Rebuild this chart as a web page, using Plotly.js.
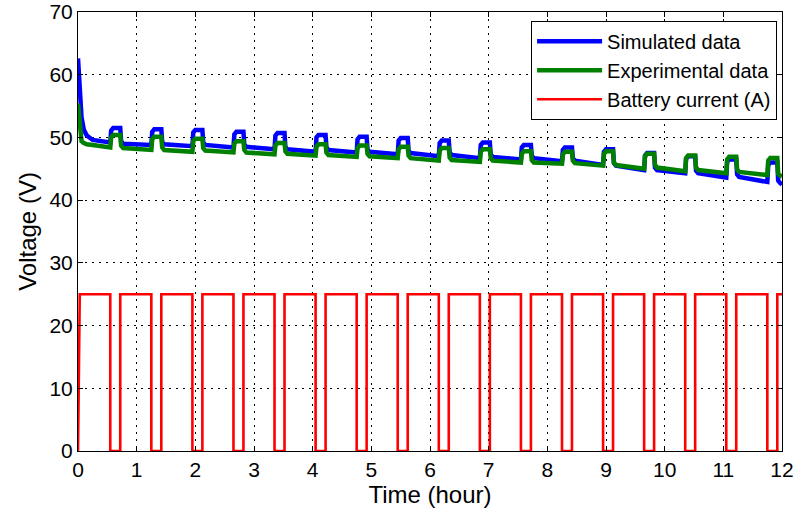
<!DOCTYPE html>
<html>
<head>
<meta charset="utf-8">
<script src="https://cdn.plot.ly/plotly-3.0.1.min.js"></script>
<style>html,body{margin:0;padding:0;background:#fff;}#chart{width:799px;height:512px;}</style>
</head>
<body>
<div id="chart"></div>
<script>
// Shared time base (hours) for the voltage series
const voltTime = [
  0, 0.03, 0.06, 0.1, 0.15, 0.25,
  0.55, 0.565, 0.6, 0.72, 0.735, 0.77,
  1.25, 1.265, 1.3, 1.42, 1.435, 1.47,
  1.95, 1.965, 2.0, 2.12, 2.135, 2.17,
  2.65, 2.665, 2.7, 2.82, 2.835, 2.87,
  3.35, 3.365, 3.4, 3.52, 3.535, 3.57,
  4.05, 4.065, 4.1, 4.22, 4.235, 4.27,
  4.75, 4.765, 4.8, 4.92, 4.935, 4.97,
  5.45, 5.465, 5.5, 5.62, 5.635, 5.67,
  6.15, 6.165, 6.2, 6.32, 6.335, 6.37,
  6.85, 6.865, 6.9, 7.02, 7.035, 7.07,
  7.55, 7.565, 7.6, 7.72, 7.735, 7.77,
  8.25, 8.265, 8.3, 8.42, 8.435, 8.47,
  8.95, 8.965, 9.0, 9.12, 9.135, 9.17,
  9.65, 9.665, 9.7, 9.82, 9.835, 9.87,
  10.35, 10.365, 10.4, 10.52, 10.535, 10.57,
  11.05, 11.065, 11.1, 11.22, 11.235, 11.27,
  11.75, 11.765, 11.8, 11.92, 11.935, 11.97,
  12.0
];

const simulatedV = [
  62.6, 57.0, 53.2, 51.2, 50.3, 49.6,
  49.2, 51.1, 51.5, 51.5, 49.4, 49.0,
  48.8, 50.9, 51.3, 51.3, 49.3, 48.9,
  48.6, 50.8, 51.2, 51.2, 49.2, 48.8,
  48.4, 50.5, 50.9, 50.9, 48.9, 48.5,
  48.1, 50.3, 50.7, 50.7, 48.5, 48.1,
  47.7, 50.0, 50.4, 50.4, 48.4, 48.0,
  47.6, 49.7, 50.1, 50.1, 48.1, 47.7,
  47.3, 49.5, 49.9, 49.9, 47.9, 47.5,
  47.0, 49.1, 49.5, 49.5, 47.6, 47.2,
  46.7, 48.8, 49.2, 49.2, 47.3, 46.9,
  46.5, 48.4, 48.8, 48.8, 47.1, 46.7,
  46.2, 48.0, 48.4, 48.4, 46.7, 46.3,
  45.6, 47.7, 48.1, 48.1, 45.9, 45.5,
  44.8, 47.1, 47.5, 47.5, 45.2, 44.8,
  44.3, 46.6, 47.0, 47.0, 44.7, 44.3,
  43.6, 46.1, 46.5, 46.5, 44.1, 43.7,
  42.9, 45.6, 46.0, 46.0, 43.1, 42.7,
  42.5
];

const experimentalV = [
  55.4, 51.0, 49.4, 49.1, 48.9, 48.8,
  48.4, 50.0, 50.4, 50.4, 48.7, 48.3,
  48.0, 49.7, 50.1, 50.1, 48.4, 48.0,
  47.7, 49.4, 49.8, 49.8, 48.3, 47.9,
  47.6, 49.0, 49.4, 49.4, 48.0, 47.6,
  47.3, 48.7, 49.1, 49.1, 47.8, 47.4,
  47.1, 48.5, 48.9, 48.9, 47.6, 47.2,
  46.9, 48.3, 48.7, 48.7, 47.4, 47.0,
  46.7, 48.1, 48.5, 48.5, 47.1, 46.7,
  46.3, 47.9, 48.3, 48.3, 46.8, 46.4,
  46.1, 47.7, 48.1, 48.1, 46.7, 46.3,
  46.0, 47.4, 47.8, 47.8, 46.4, 46.0,
  45.8, 47.3, 47.7, 47.7, 46.3, 45.9,
  45.5, 47.4, 47.8, 47.8, 46.0, 45.6,
  45.0, 47.0, 47.4, 47.4, 45.6, 45.2,
  44.6, 46.7, 47.1, 47.1, 45.2, 44.8,
  44.3, 46.5, 46.9, 46.9, 44.9, 44.5,
  44.0, 46.3, 46.7, 46.7, 44.2, 43.9,
  43.8
];

// Battery current square wave (hours, amperes)
const currentTime = [
  0, 0.03,
  0.55, 0.55, 0.72, 0.72,
  1.25, 1.25, 1.42, 1.42,
  1.95, 1.95, 2.12, 2.12,
  2.65, 2.65, 2.82, 2.82,
  3.35, 3.35, 3.52, 3.52,
  4.05, 4.05, 4.22, 4.22,
  4.75, 4.75, 4.92, 4.92,
  5.45, 5.45, 5.62, 5.62,
  6.15, 6.15, 6.32, 6.32,
  6.85, 6.85, 7.02, 7.02,
  7.55, 7.55, 7.72, 7.72,
  8.25, 8.25, 8.42, 8.42,
  8.95, 8.95, 9.12, 9.12,
  9.65, 9.65, 9.82, 9.82,
  10.35, 10.35, 10.52, 10.52,
  11.05, 11.05, 11.22, 11.22,
  11.75, 11.75, 11.92, 11.92,
  12.0
];
const currentA = [
  0, 25,
  25, 0, 0, 25,
  25, 0, 0, 25,
  25, 0, 0, 25,
  25, 0, 0, 25,
  25, 0, 0, 25,
  25, 0, 0, 25,
  25, 0, 0, 25,
  25, 0, 0, 25,
  25, 0, 0, 25,
  25, 0, 0, 25,
  25, 0, 0, 25,
  25, 0, 0, 25,
  25, 0, 0, 25,
  25, 0, 0, 25,
  25, 0, 0, 25,
  25, 0, 0, 25,
  25, 0, 0, 25,
  25
];

const seriesNames = ['Simulated data', 'Experimental data', 'Battery current (A)'];
const xTicks = [0,1,2,3,4,5,6,7,8,9,10,11,12];
const yTicks = [0,10,20,30,40,50,60,70];

const FONT = 'Liberation Sans, Arial, Helvetica, sans-serif';

const traces = [
  {x: voltTime, y: simulatedV, name: seriesNames[0], type: 'scatter', mode: 'lines',
   line: {color: '#0000ff', width: 4.5}},
  {x: voltTime, y: experimentalV, name: seriesNames[1], type: 'scatter', mode: 'lines',
   line: {color: '#008000', width: 4.5}},
  {x: currentTime, y: currentA, name: seriesNames[2], type: 'scatter', mode: 'lines',
   line: {color: '#ff0000', width: 2.6}}
];

const axisCommon = {
  showline: true, linecolor: '#000', linewidth: 1, mirror: 'allticks',
  ticks: 'inside', ticklen: 5, tickcolor: '#000', tickwidth: 1,
  showgrid: true, gridcolor: '#000', gridwidth: 1, griddash: '2px,5px',
  zeroline: false, tickfont: {family: FONT, size: 21, color: '#000'}
};

const layout = {
  width: 799, height: 512,
  margin: {l: 78, r: 17, t: 12, b: 61},
  paper_bgcolor: '#fff', plot_bgcolor: '#fff',
  font: {family: FONT, color: '#000'},
  showlegend: true,
  legend: {x: 0.993, xanchor: 'right', y: 0.98, yanchor: 'top',
           bgcolor: '#fff', bordercolor: '#000', borderwidth: 1,
           font: {family: FONT, size: 20, color: '#000'},
           itemwidth: 65, tracegroupgap: 0},
  xaxis: Object.assign({}, axisCommon, {
    range: [0, 12], tickvals: xTicks, ticktext: xTicks.map(String),
    title: {text: 'Time (hour)', font: {family: FONT, size: 24, color: '#000'}, standoff: 4}
  }),
  yaxis: Object.assign({}, axisCommon, {
    range: [0, 70], tickvals: yTicks, ticktext: yTicks.map(String),
    title: {text: 'Voltage (V)', font: {family: FONT, size: 24, color: '#000'}, standoff: 6}
  })
};

Plotly.newPlot('chart', traces, layout, {displayModeBar: false, staticPlot: true});
</script>
</body>
</html>
